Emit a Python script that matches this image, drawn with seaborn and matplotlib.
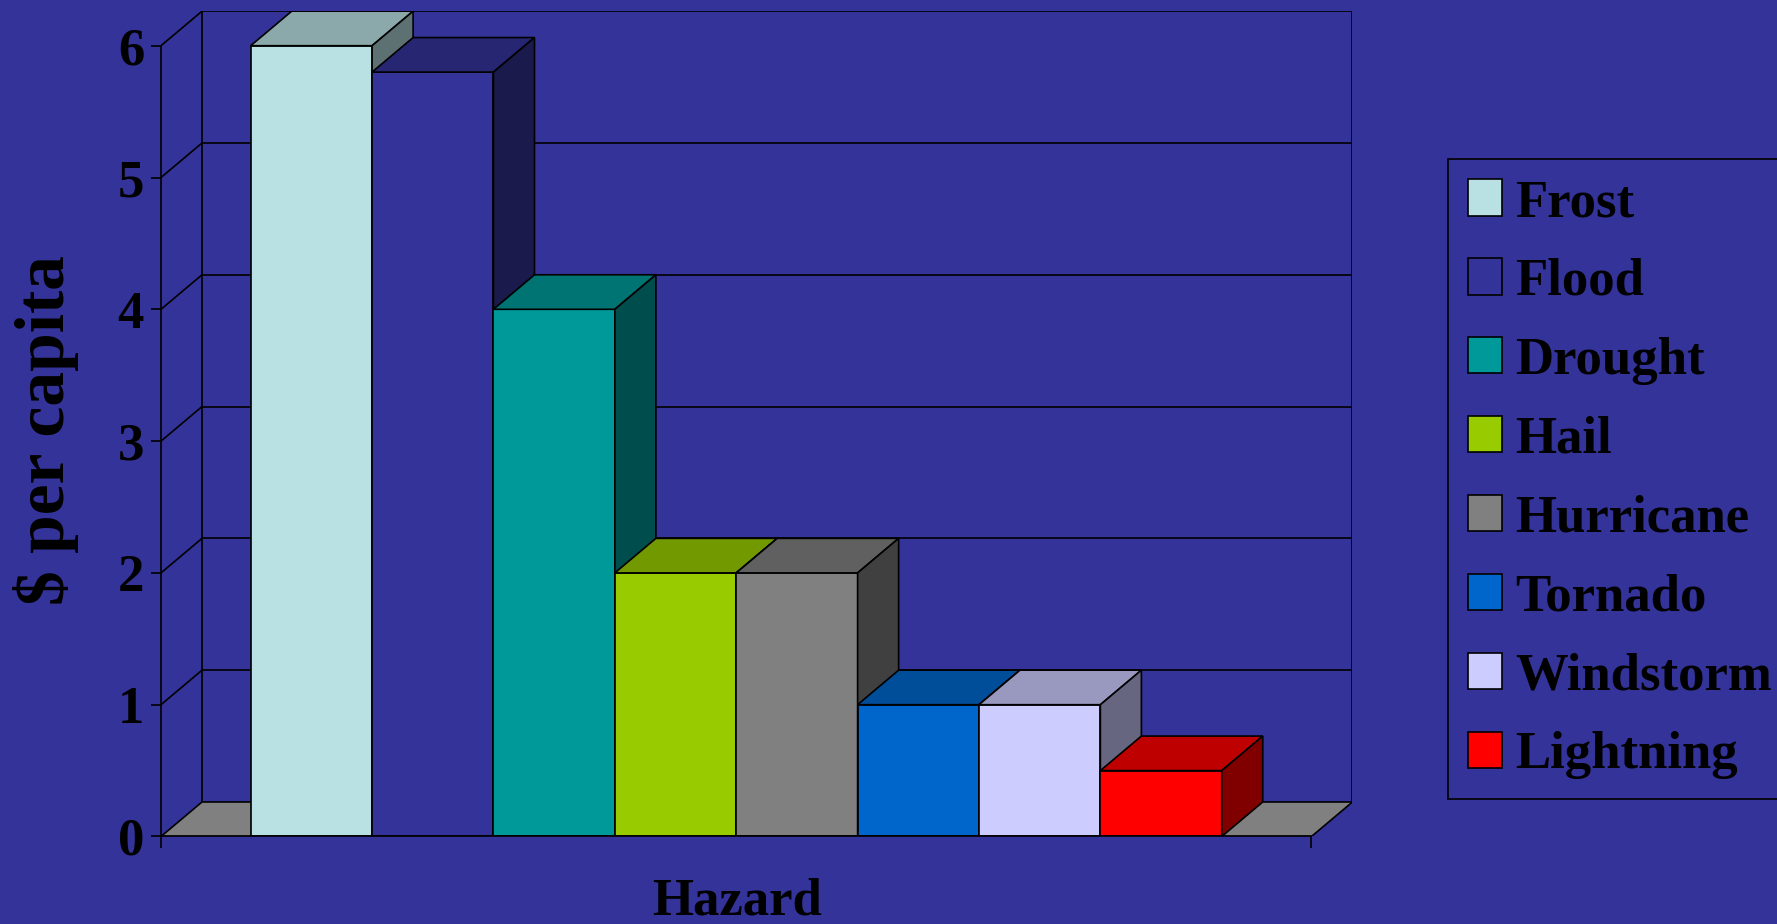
import matplotlib
matplotlib.use("Agg")
import matplotlib.pyplot as plt
from matplotlib.patches import Polygon, Patch
import pandas as pd
import seaborn as sns

# Loss per head by hazard type
hazards = ["Frost", "Flood", "Drought", "Hail", "Hurricane", "Tornado", "Windstorm", "Lightning"]
per_capita = [6.0, 5.8, 4.0, 2.0, 2.0, 1.0, 1.0, 0.5]
bar_colors = ["#B9E0E3", "#333399", "#009999", "#99CC00", "#808080", "#0066CC", "#CCCCFF", "#FF0000"]
y_ticks = [0, 1, 2, 3, 4, 5, 6]
x_title = "Hazard"
y_title = r"\$ per capita"

BG = "#333399"
FLOOR = "#808080"
LW = 1.2
FS = 38
FS_YLABEL = 50

# oblique depth of the 3-D box, in data units
GAP = 0.739
DX, DY = 0.338, 0.262

sns.set_theme(style="white")
plt.rcParams["font.family"] = ["Liberation Serif", "DejaVu Serif"]
plt.rcParams["font.weight"] = "bold"
plt.rcParams["text.color"] = "black"
plt.rcParams["axes.labelcolor"] = "black"
plt.rcParams["xtick.color"] = "black"
plt.rcParams["ytick.color"] = "black"

df = pd.DataFrame({"hazard": hazards, "value": per_capita})

fig = plt.figure(figsize=(17.77, 9.24), dpi=100, facecolor=BG)
ax = fig.add_axes([0.0906, 0.0947, 0.6705, 0.8932])
ax.set_facecolor("none")

sns.barplot(data=df, x="hazard", y="value", hue="hazard", order=hazards,
            hue_order=hazards, palette=bar_colors, saturation=1, width=1.0,
            dodge=False, legend=False, edgecolor="black", linewidth=LW, ax=ax)

n = len(hazards)
xl, xr = -0.5 - GAP, n - 0.5 + GAP
ymax = max(y_ticks)


def shade(color, k):
    r, g, b = matplotlib.colors.to_rgb(color)
    return (r * k, g * k, b * k)


# floor
ax.add_patch(Polygon([(xl, 0), (xr, 0), (xr + DX, DY), (xl + DX, DY)], closed=True,
                     facecolor=FLOOR, edgecolor="black", lw=LW, zorder=2))
# back wall outline and gridlines
ax.plot([xl + DX, xl + DX, xr + DX, xr + DX], [DY, ymax + DY, ymax + DY, DY],
        color="black", lw=LW, zorder=1.5, solid_joinstyle="miter")
for t in y_ticks[1:-1]:
    ax.plot([xl + DX, xr + DX], [t + DY, t + DY], color="black", lw=LW, zorder=1.5)
# side wall gridlines
for t in y_ticks[1:]:
    ax.plot([xl, xl + DX], [t, t + DY], color="black", lw=LW, zorder=1.5)

# give every bar a top and a right face
bars = sorted([p for c in ax.containers for p in c if p.get_height() > 0],
              key=lambda r: r.get_x())
for i, r in enumerate(bars):
    x0, w, h = r.get_x(), r.get_width(), r.get_height()
    fc = r.get_facecolor()
    z = 10 + 3 * i
    r.set_zorder(z)
    r.set_joinstyle("miter")
    ax.add_patch(Polygon([(x0, h), (x0 + w, h), (x0 + w + DX, h + DY), (x0 + DX, h + DY)],
                         closed=True, facecolor=shade(fc, 0.75), edgecolor="black",
                         lw=LW, zorder=z + 1, joinstyle="miter"))
    ax.add_patch(Polygon([(x0 + w, 0), (x0 + w + DX, DY), (x0 + w + DX, h + DY), (x0 + w, h)],
                         closed=True, facecolor=shade(fc, 0.5), edgecolor="black",
                         lw=LW, zorder=z + 2, joinstyle="miter"))

ax.set_xlim(xl, xr + DX)
ax.set_ylim(0, ymax + DY)

for s in ("top", "right"):
    ax.spines[s].set_visible(False)
for s in ("left", "bottom"):
    ax.spines[s].set_color("black")
    ax.spines[s].set_linewidth(LW)
    ax.spines[s].set_zorder(40)
ax.spines["left"].set_bounds(0, ymax)
ax.spines["bottom"].set_bounds(xl, xr)

ax.set_yticks(y_ticks)
ax.set_yticklabels([str(t) for t in y_ticks], fontsize=FS, fontweight="bold")
ax.set_xticks([xl, xr])
ax.set_xticklabels(["", ""])
ax.tick_params(axis="y", direction="out", length=7.2, width=LW, pad=5, left=True)
ax.tick_params(axis="x", direction="out", length=8.6, width=LW, bottom=True)
ax.grid(False)

ax.set_xlabel(x_title, fontsize=FS, fontweight="bold")
ax.xaxis.label.set_va("baseline")
ax.xaxis.set_label_coords(0.4838, -0.095)
ax.set_ylabel(y_title, fontsize=FS_YLABEL, fontweight="bold")
ax.yaxis.label.set_va("center")
ax.yaxis.set_label_coords(-0.0962, 0.4925)

handles = [Patch(facecolor=c, edgecolor="black", lw=LW, label=h)
           for h, c in zip(hazards, bar_colors)]
leg = ax.legend(handles=handles, loc="upper left",
                bbox_to_anchor=(1447.7 / 1777, 1 - 159 / 924),
                bbox_transform=fig.transFigure, frameon=True, fancybox=False,
                facecolor=BG, edgecolor="black", framealpha=1,
                prop={"family": ["Liberation Serif"], "weight": "bold", "size": FS},
                borderpad=0.38, borderaxespad=0, handlelength=0.64, handleheight=0.68,
                handletextpad=0.26, labelspacing=0.585)
leg.get_frame().set_linewidth(LW)

fig.savefig("out.png", dpi=100, facecolor=BG)
